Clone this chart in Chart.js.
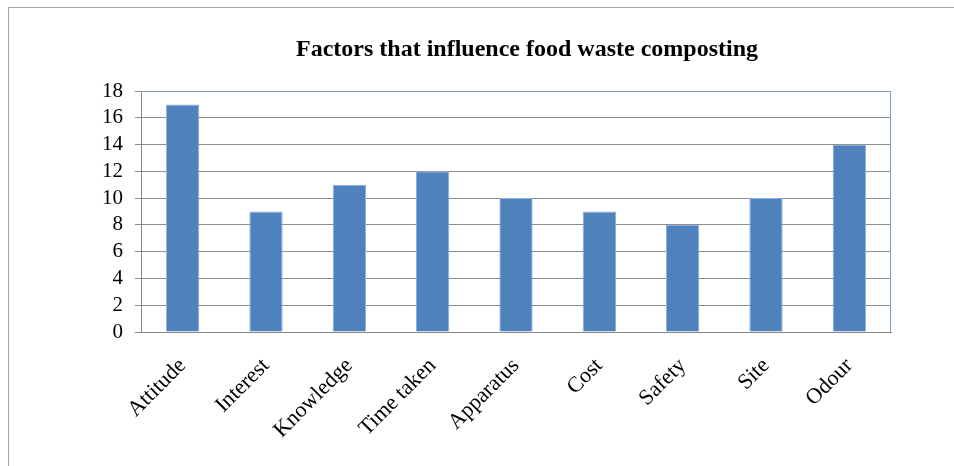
<!DOCTYPE html>
<html>
<head>
<meta charset="utf-8">
<script src="https://cdn.jsdelivr.net/npm/chart.js@4/dist/chart.umd.min.js"></script>
<style>
  body { margin: 0; background: #fff; }
  #wrap { position: relative; width: 954px; height: 466px; }
  #frame { position: absolute; left: 8px; top: 7px; right: -2px; bottom: -2px; border-left: 1px solid #a6a6a6; border-top: 1px solid #a6a6a6; }
  canvas { position: absolute; left: 0; top: 0; }
</style>
</head>
<body>
<div id="wrap">
  <div id="frame"></div>
  <canvas id="myChart" width="954" height="466"></canvas>
</div>
<script>
const factors = ['Attitude', 'Interest', 'Knowledge', 'Time taken', 'Apparatus', 'Cost', 'Safety', 'Site', 'Odour'];
const counts = [17, 9, 11, 12, 10, 9, 8, 10, 14];
const chartTitle = 'Factors that influence food waste composting';

const ctx = document.getElementById('myChart').getContext('2d');
const serif = '"Liberation Serif", "Times New Roman", serif';

// title and the blue plot border, drawn by hand like Excel does
const excelBits = {
  id: 'excelBits',
  afterDraw(chart) {
    const c = chart.ctx;
    const a = chart.chartArea;
    c.save();
    c.strokeStyle = '#7f9fcf';
    c.lineWidth = 1;
    c.beginPath();
    c.moveTo(a.left, a.top + 0.5);
    c.lineTo(a.right - 0.5, a.top + 0.5);
    c.lineTo(a.right - 0.5, a.bottom);
    c.stroke();
    c.fillStyle = '#000';
    c.font = 'bold 24px ' + serif;
    c.textAlign = 'center';
    c.textBaseline = 'middle';
    c.fillText(chartTitle, 527, 50);
    c.restore();
  }
};

const myChart = new Chart(ctx, {
  type: 'bar',
  data: {
    labels: factors,
    datasets: [{
      data: counts,
      backgroundColor: '#4f81bd',
      borderColor: '#8fb0d8',
      borderWidth: 1,
      categoryPercentage: 1,
      barPercentage: 0.4
    }]
  },
  options: {
    responsive: false,
    animation: false,
    layout: { padding: { top: 91, right: 63, left: 0, bottom: 0 } },
    plugins: { legend: { display: false }, tooltip: { enabled: false } },
    scales: {
      x: {
        grid: { display: false },
        border: { color: '#868686' },
        afterFit: s => { s.height = 134; },
        ticks: {
          minRotation: 45, maxRotation: 45, padding: 13, autoSkip: false,
          color: '#000',
          font: { family: serif, size: 22 }
        }
      },
      y: {
        min: 0, max: 18,
        afterFit: s => { s.width = 141; },
        border: { color: '#868686' },
        grid: { color: '#8c8c8c', tickLength: 6 },
        ticks: {
          stepSize: 2, padding: 12, autoSkip: false,
          color: '#000',
          font: { family: serif, size: 21 }
        }
      }
    }
  },
  plugins: [excelBits]
});
</script>
</body>
</html>
